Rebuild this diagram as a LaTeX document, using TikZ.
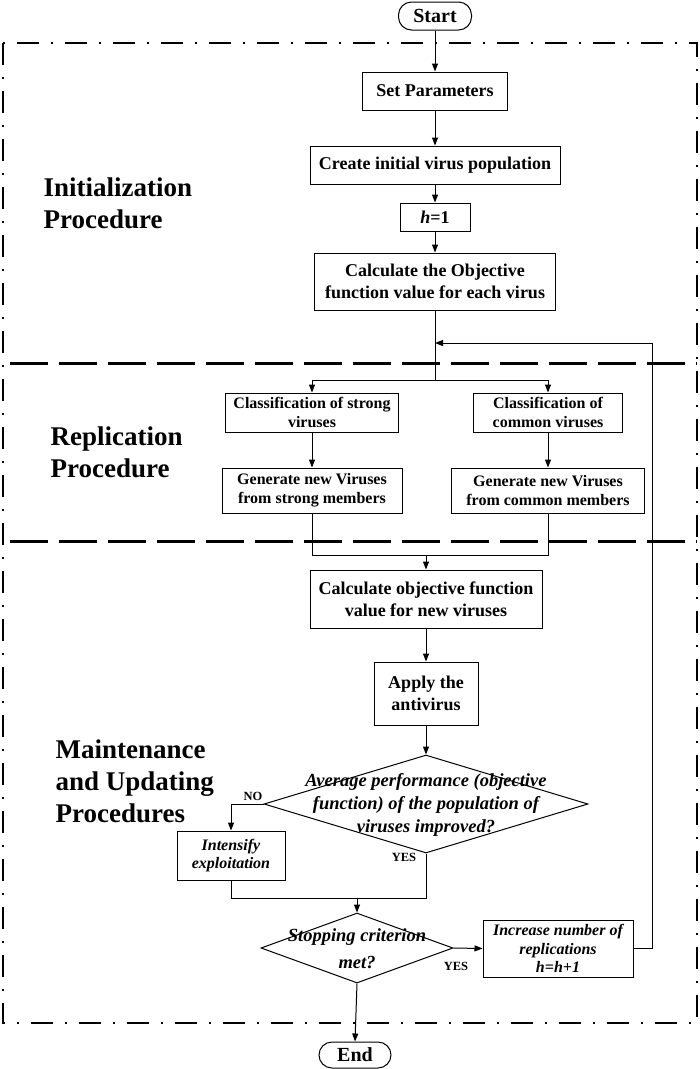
\documentclass[tikz,border=0pt]{standalone}
\usepackage{fontspec}
\setmainfont{Liberation Serif}
\usetikzlibrary{arrows.meta,positioning,shapes.geometric}

\begin{document}
\begin{tikzpicture}[x=1pt,y=-1pt,
    proc/.style={rectangle,draw,line width=1pt,inner sep=0pt,align=center,font=\bfseries\fontsize{18}{22}\selectfont},
    procsm/.style={proc,font=\bfseries\fontsize{16}{19}\selectfont},
    procit/.style={proc,font=\bfseries\itshape\fontsize{16}{18.5}\selectfont},
    term/.style={proc,rounded corners=13pt,font=\bfseries\fontsize{20}{22}\selectfont},
    decision/.style={diamond,draw,line width=1pt,inner sep=0pt},
    dtext/.style={align=center,font=\bfseries\itshape\fontsize{18.5}{23}\selectfont},
    sect/.style={anchor=west,align=left,font=\bfseries\fontsize{27}{32}\selectfont},
    yesno/.style={font=\bfseries\fontsize{12.5}{14}\selectfont},
    arr/.style={line width=1pt,-{Triangle[length=8pt,width=6pt]}},
    link/.style={line width=1pt},
    frameline/.style={line width=2.5pt,dash pattern=on 22pt off 12pt on 2pt off 12pt},
    sepline/.style={line width=3pt,dash pattern=on 38pt off 11pt}
]
\useasboundingbox (0,0) rectangle (700,1069);

\draw[frameline] (3,43) rectangle (697,1023);
\draw[sepline] (10,363) -- (697,363);
\draw[sepline] (10,541) -- (697,541);

\node[sect] (initlbl) at (40,203) {Initialization\\Procedure};
\node[sect] (repllbl) at (47,452) {Replication\\Procedure};
\node[sect] (maintlbl) at (52,781) {Maintenance\\and Updating\\Procedures};

\node[term,minimum width=73pt,minimum height=28pt] (start) at (435,16) {Start};
\node[proc,minimum width=145pt,minimum height=38pt] (setp) at (435,91) {Set Parameters};
\node[proc,minimum width=250pt,minimum height=38pt] (create) at (435,165) {Create initial virus population};
\node[proc,minimum width=70pt,minimum height=28pt] (hone) at (435,217) {\textit{h}=1};
\node[proc,minimum width=241pt,minimum height=57pt] (calc) at (435,281.5) {Calculate the Objective\\function value for each virus};

\node[procsm,minimum width=173pt,minimum height=39pt] (clsstrong) at (312,412.5) {Classification of strong\\viruses};
\node[procsm,minimum width=149pt,minimum height=39pt] (clscommon) at (548,412.5) {Classification of\\common viruses};
\node[procsm,minimum width=180pt,minimum height=45pt] (genstrong) at (312,490.5) {Generate new Viruses\\from strong members};
\node[procsm,minimum width=193pt,minimum height=45pt] (gencommon) at (548,490.5) {Generate new Viruses\\from common members};

\node[proc,minimum width=232pt,minimum height=58pt] (calcnew) at (426,599) {Calculate objective function\\value for new viruses};
\node[proc,minimum width=104pt,minimum height=63pt] (anti) at (426,693.5) {Apply the\\antivirus};

\node[decision,minimum width=324pt,minimum height=98pt] (improved) at (426,804) {};
\node[dtext] (improvedtxt) at (426,805) {Average performance (objective\\function) of the population of\\viruses improved?};
\node[procit,minimum width=108pt,minimum height=49pt] (intens) at (231,855.5) {Intensify\\exploitation};

\node[decision,minimum width=192pt,minimum height=70pt] (stopc) at (357,948) {};
\node[dtext,font=\bfseries\itshape\fontsize{18.5}{27}\selectfont] (stoptxt) at (357,949) {Stopping criterion\\met?};
\node[procit,minimum width=150pt,minimum height=57pt] (incr) at (558,948.5) {Increase number of\\replications\\h=h+1};

\node[term,minimum width=72pt,minimum height=26pt] (finish) at (355,1055) {End};

\node[yesno] (nolbl) at (253,796) {NO};
\node[yesno] (yeslbl) at (404,857) {YES};
\node[yesno] (yeslbltwo) at (456,966) {YES};

\coordinate (split) at (435,380);
\coordinate (back) at (435,343);
\coordinate (loopc) at (652,343);
\coordinate (merge) at (426,555);
\coordinate (joinc) at (357,898);

\draw[arr] (start) -- (setp);
\draw[arr] (setp) -- (create);
\draw[arr] (create) -- (hone);
\draw[arr] (hone) -- (calc);
\draw[link] (calc.south) -- (split);
\draw[arr] (split) -| (clsstrong.north);
\draw[arr] (split) -| (clscommon.north);
\draw[arr] (clsstrong) -- (genstrong);
\draw[arr] (clscommon) -- (gencommon);
\draw[link] (genstrong.south) |- (merge);
\draw[link] (gencommon.south) |- (merge);
\draw[arr] (merge) -- (calcnew.north);
\draw[arr] (calcnew) -- (anti);
\draw[arr] (anti) -- (improved.north);
\draw[arr] (improved.west) -| (intens.north);
\draw[link] (improved.south) |- (joinc);
\draw[link] (intens.south) |- (joinc);
\draw[arr] (joinc) -- (stopc.north);
\draw[arr] (stopc.east) -- (incr.west);
\draw[arr] (incr.east) -| (loopc) -- (back);
\draw[arr] (stopc.south) -- (finish.north);
\end{tikzpicture}
\end{document}
